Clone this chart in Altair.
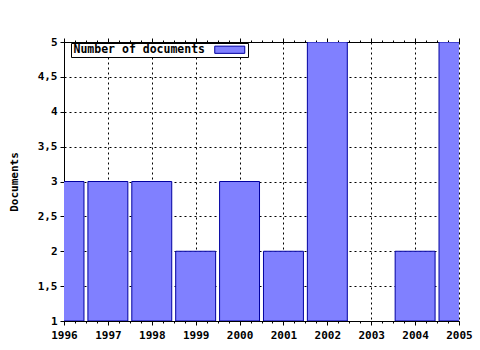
import altair as alt
import pandas as pd

years = [1996, 1997, 1998, 1999, 2000, 2001, 2002, 2004, 2005]
documents = [3, 3, 3, 2, 3, 2, 5, 2, 5]
tick_years = list(range(1996, 2006))
y_ticks = [1, 1.5, 2, 2.5, 3, 3.5, 4, 4.5, 5]
series_name = "Number of documents"

half = 0.455
df = pd.DataFrame({
    "year": years,
    "start": [y - half for y in years],
    "end": [y + half for y in years],
    "value": documents,
    "series": [series_name] * len(years),
})

minor_vals = [1996 + i * 0.25 for i in range(0, 37)]

FONT = "DejaVu Sans Mono"
xscale = alt.Scale(domain=[1996, 2005], nice=False, zero=False)
yscale = alt.Scale(domain=[1, 5], nice=False, zero=False)

grid_common = dict(gridColor="black", gridDash=[2, 3], gridWidth=1, gridOpacity=1)

x_axis = alt.Axis(values=tick_years, format="d", title=None, orient="bottom",
                  labelFont=FONT, labelFontWeight="bold", labelFontSize=11, labelColor="black",
                  labelPadding=4, tickSize=4, tickColor="black", domainColor="black",
                  labelFlush=False, labelOverlap=False, **grid_common)
y_axis = alt.Axis(values=y_ticks, title="Documents", orient="left",
                  labelExpr="replace(format(datum.value, ''), '.', ',')",
                  labelFont=FONT, labelFontWeight="bold", labelFontSize=11, labelColor="black",
                  labelPadding=3, tickSize=4, tickColor="black", domainColor="black",
                  titleFont=FONT, titleFontWeight="bold", titleFontSize=11, titleColor="black",
                  titleX=-50, titleAngle=-90, titleBaseline="middle", labelFlush=False,
                  **grid_common)

bars = alt.Chart(df).mark_rect(stroke="#0000a0", strokeWidth=1, clip=True).encode(
    x=alt.X("start:Q", scale=xscale, axis=x_axis),
    x2="end:Q",
    y=alt.Y("value:Q", scale=yscale, axis=y_axis),
    y2=alt.datum(1),
    color=alt.Color("series:N",
                    scale=alt.Scale(domain=[series_name], range=["#8080ff"]),
                    legend=alt.Legend(title=None, orient="none", legendX=7, legendY=1,
                                      fillColor="white", strokeColor="black", padding=1,
                                      labelFont=FONT, labelFontWeight="bold", labelFontSize=11.5,
                                      labelColor="black",
                                      symbolType="M-3.75,-0.9L3.75,-0.9L3.75,0.9L-3.75,0.9Z",
                                      symbolSize=64, symbolStrokeColor="#0000a0",
                                      symbolStrokeWidth=1, symbolFillColor="#8080ff",
                                      symbolOffset=152, labelOffset={"expr": "-162"})),
)

top_axis = alt.Chart(df).mark_point(opacity=0).encode(
    x=alt.X("year:Q", scale=xscale,
            axis=alt.Axis(values=tick_years, orient="top", labels=False, title=None, grid=False,
                          tickSize=4, tickColor="black", domainColor="black")),
)
minor_bottom = alt.Chart(df).mark_point(opacity=0).encode(
    x=alt.X("year:Q", scale=xscale,
            axis=alt.Axis(values=minor_vals, orient="bottom", labels=False, title=None, grid=False,
                          tickSize=2, tickColor="black", domain=False)),
)
minor_top = alt.Chart(df).mark_point(opacity=0).encode(
    x=alt.X("year:Q", scale=xscale,
            axis=alt.Axis(values=minor_vals, orient="top", labels=False, title=None, grid=False,
                          tickSize=2, tickColor="black", domain=False)),
)

chart = alt.layer(bars, top_axis, minor_bottom, minor_top).resolve_scale(
    x="shared").resolve_axis(x="independent").properties(
    width=395, height=279,
    autosize=alt.AutoSizeParams(type="none"),
    padding={"left": 64, "top": 42, "right": 21, "bottom": 29},
    background="white",
).configure_view(stroke=None)

chart.save("out.html", embed_options={"renderer": "svg", "actions": False})
